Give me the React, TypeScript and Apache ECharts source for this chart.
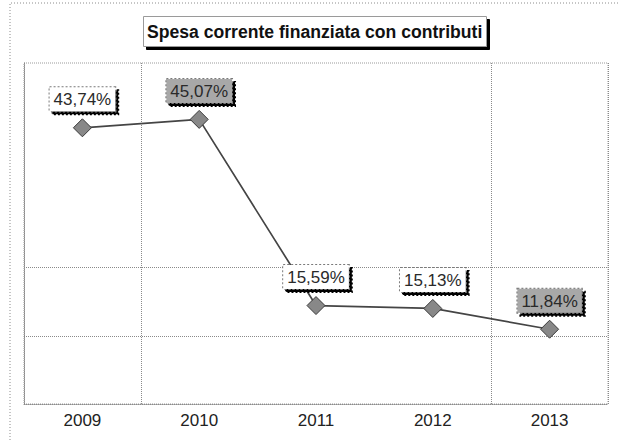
import React, { useEffect, useRef } from "react";
import * as echarts from "echarts";

const years = ["2009", "2010", "2011", "2012", "2013"];
const values = [43.74, 45.07, 15.59, 15.13, 11.84];
const shadedYears = ["2010", "2013"];
const gridValues = [10.8, 21.6];
const titleText = "Spesa corrente finanziata con contributi";

const fmt = (v: number) => v.toFixed(2).replace(".", ",") + "%";

export default function App() {
  const ref = useRef<HTMLDivElement>(null);
  useEffect(() => {
    if (!ref.current) return;
    const chart = echarts.init(ref.current, null, { renderer: "svg" });
    const font = "'Liberation Sans', Arial, sans-serif";
    chart.setOption({
      animation: false,
      backgroundColor: "#ffffff",
      title: {
        text: titleText,
        left: 143,
        top: 16,
        padding: [7, 4, 6, 4],
        backgroundColor: "#ffffff",
        borderColor: "#9a9a9a",
        borderWidth: 1,
        shadowColor: "#000000",
        shadowBlur: 0,
        shadowOffsetX: 3,
        shadowOffsetY: 3,
        textStyle: {
          fontFamily: font,
          fontWeight: "bold",
          fontSize: 17.6,
          color: "#111111",
        },
      },
      graphic: [
        {
          type: "polyline",
          shape: { points: [[10, 440], [10, 3], [620, 3]] },
          style: { fill: "none", stroke: "#8c8c8c", lineWidth: 1, lineDash: [1, 2] },
          silent: true,
          z: 0,
        },
      ],
      grid: {
        left: 24,
        right: 12,
        top: 63,
        bottom: 36,
        show: true,
        borderColor: "#9a9a9a",
        borderWidth: 1,
        borderType: "dotted",
      },
      xAxis: {
        type: "category",
        data: years,
        boundaryGap: true,
        axisLine: { show: true, lineStyle: { color: "#8a8a8a", type: "dotted" } },
        axisTick: { show: false },
        axisLabel: {
          fontFamily: font,
          fontSize: 17,
          color: "#222222",
          margin: 8,
        },
        splitLine: {
          show: true,
          interval: (index: number) => index === 1 || index === 4,
          lineStyle: { color: "#8a8a8a", type: "dotted" },
        },
      },
      yAxis: {
        type: "value",
        min: 0,
        max: 54,
        interval: 10.8,
        axisLine: { show: true, lineStyle: { color: "#8a8a8a", type: "dotted" } },
        axisTick: { show: false },
        axisLabel: { show: false },
        splitLine: { show: false },
      },
      series: [
        {
          type: "line",
          data: years.map((y, i) => ({
            value: values[i],
            label: {
              backgroundColor: shadedYears.includes(y) ? "#a8a8a8" : "#ffffff",
            },
          })),
          symbol: "diamond",
          symbolSize: 18,
          lineStyle: { color: "#454545", width: 1.7 },
          itemStyle: { color: "#888888", borderColor: "#3a3a3a", borderWidth: 1 },
          label: {
            show: true,
            position: "top",
            distance: 7,
            formatter: (p: any) => fmt(p.value),
            fontFamily: font,
            fontSize: 17,
            color: "#2a2a2a",
            padding: [4, 4, 3, 4],
            borderColor: "#7a7a7a",
            borderWidth: 1,
            borderType: "dotted",
            shadowColor: "#000000",
            shadowBlur: 0,
            shadowOffsetX: 3,
            shadowOffsetY: 3,
          },
          markLine: {
            silent: true,
            symbol: "none",
            label: { show: false },
            lineStyle: { color: "#8a8a8a", type: "dotted", width: 1 },
            data: gridValues.map((v) => ({ yAxis: v })),
            z: 1,
          },
          z: 3,
        },
      ],
    });
    return () => chart.dispose();
  }, []);
  return <div ref={ref} style={{ width: 620, height: 440, position: "absolute", left: 0, top: 0 }} />;
}
